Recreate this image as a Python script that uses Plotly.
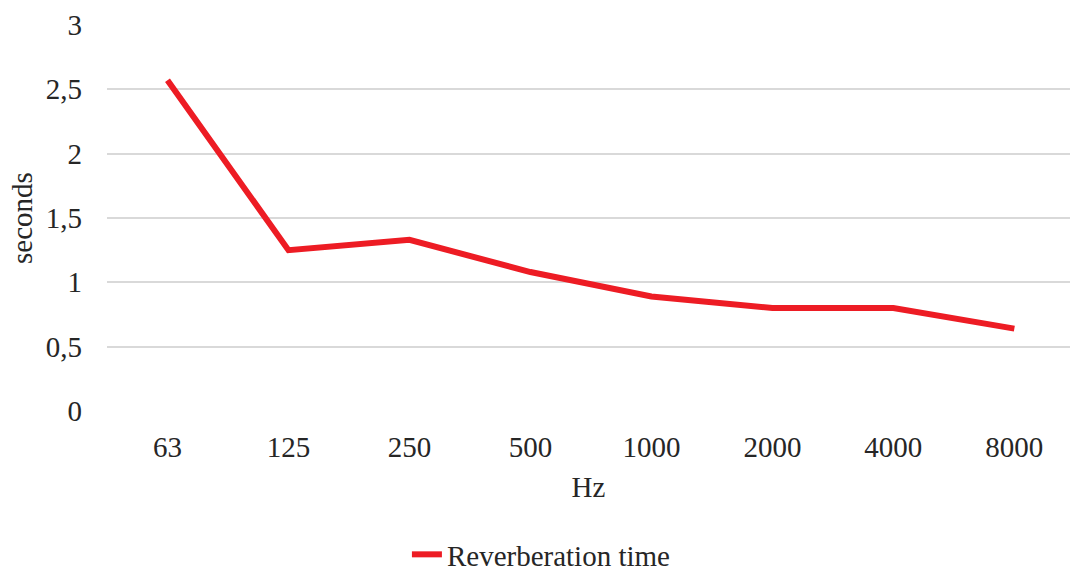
import plotly.graph_objects as go

categories = ["63", "125", "250", "500", "1000", "2000", "4000", "8000"]
reverb_time = [2.57, 1.25, 1.33, 1.08, 0.89, 0.80, 0.80, 0.64]
y_ticks = [0, 0.5, 1, 1.5, 2, 2.5, 3]
y_tick_labels = ["0", "0,5", "1", "1,5", "2", "2,5", "3"]

FONT = "Liberation Serif, Times New Roman, serif"
TXT = "#262626"
FS = 29

fig = go.Figure()
fig.add_trace(go.Scatter(
    x=list(range(len(categories))), y=reverb_time, mode="lines",
    name="Reverberation time",
    line=dict(color="#ED1C24", width=6),
))

fig.update_layout(
    width=1070, height=574,
    margin=dict(l=107, r=0, t=25, b=163, autoexpand=False),
    paper_bgcolor="white", plot_bgcolor="white",
    font=dict(family=FONT, size=FS, color=TXT),
    showlegend=True,
    legend=dict(orientation="h", x=0.506, xanchor="center", xref="container",
                y=0.034, yanchor="middle", yref="container",
                font=dict(family=FONT, size=FS, color=TXT)),
    xaxis=dict(
        range=[-0.5, 7.46], tickmode="array", automargin=False,
        tickvals=list(range(len(categories))), ticktext=categories,
        showgrid=False, zeroline=False, showline=False, ticks="",
        ticklabelstandoff=16,
        title=dict(text="Hz", standoff=14, font=dict(family=FONT, size=FS, color=TXT)),
    ),
    yaxis=dict(
        range=[0, 3], tickmode="array", tickvals=y_ticks, ticktext=y_tick_labels,
        automargin=False,
        showgrid=True, gridcolor="#D9D9D9", gridwidth=2, zeroline=False,
        showline=False, ticks="", ticklabelstandoff=24,
        title=dict(text="seconds", standoff=4, font=dict(family=FONT, size=FS, color=TXT)),
    ),
)

fig.write_html("out.html")
